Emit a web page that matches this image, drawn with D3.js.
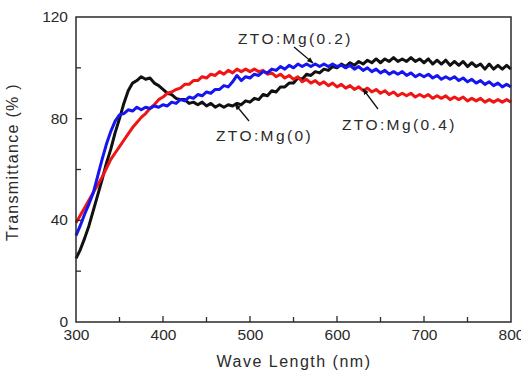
<!DOCTYPE html>
<html><head><meta charset="utf-8">
<script src="https://cdn.jsdelivr.net/npm/d3@7"></script>
<style>body{margin:0;background:#fff;}svg{display:block;font-family:"Liberation Sans",Arial,sans-serif;}</style>
</head><body>
<svg id="c" width="521" height="372"></svg>
<script>
const wavelengths = d3.range(300, 801, 5);
const mg0 = [25,28.5,33,38,44,50,56,62.5,68,74.5,
 80,86,91,94,95,96.5,95.5,96,94,93,
 91.5,90,89.5,88,87.5,87.5,86,86.5,85.5,86.5,
 85,86,84.5,85.5,84.5,85.5,85,86,85.5,87,
 86.5,88,87.5,89.5,89,91,90.5,92.5,92.5,94,
 94,96,95.5,97.5,97,98.5,98,99.5,99,100.5,
 100,101.5,100.5,102,101,102.5,101.5,103,102,103.5,
 102,103.5,102.5,104,102.5,103.5,102.5,104,102.5,103.5,
 102,103.5,101.5,103,101.5,103,101,102.5,101,102.5,
 100.5,102,100.5,101.5,99.5,101.5,99.5,101,99.5,101,
 99.5];
const mg02 = [34,38,42.5,46.5,51,57.5,64,70,75,79,
 81.5,82,83.5,83,84.5,83.5,84.5,84,85,84.5,
 85.5,85,86.5,86,87.5,87,88.5,88,89.5,89,
 90.5,90,91.5,91.5,93,92.5,94.5,97,95,96.5,
 96,97.5,97,98.5,98,99.5,99,100.5,99.5,101,
 100,101.5,100.5,101.5,100.5,101.5,100.5,101.5,100.5,101.5,
 100.5,101,100,101,99.5,100.5,99,100,98.5,99.5,
 98,99,97.5,98.5,97.5,98.5,97,98,96.5,97.5,
 96.5,97.5,96,97,95.5,96.5,95.5,96.5,95,96,
 94.5,95.5,94,95,93.5,94.5,93,94,92.5,93.5,
 92.5];
const mg04 = [39,42,45,48,51,54,57,60.5,64,66.5,
 69,71.5,74,76.5,78.5,80.5,82,84,85.5,87.5,
 88.5,90,90.5,91.5,92,93.5,93.5,95,95,96.5,
 96,97.5,97,98.5,97.5,99,98,99.5,98.5,99.5,
 98.5,99.5,98.5,99,97.5,98,96.5,97.5,96,97,
 95.5,96.5,94.5,95.5,94,95,93.5,94.5,93,94,
 92.5,93.5,92,93,91.5,92.5,91,92,90.5,91.5,
 90,91,89.5,90.5,89,90,89,90,88.5,89.5,
 88.5,89.5,88,89,88,89,87.5,88.5,87.5,88.5,
 87,88,87,88,86.5,87.5,86.5,87.5,86.5,87.5,
 86.5];
const seriesNames = ["ZTO:Mg(0)","ZTO:Mg(0.2)","ZTO:Mg(0.4)"];
const seriesColors = ["#111111","#1515f0","#f01515"];
const xTicks = [300,400,500,600,700,800];
const yTicks = [0,40,80,120];

const svg = d3.select("#c");
const L=76, R=511, T=17, B=322;
const x = d3.scaleLinear().domain([300,800]).range([L,R]);
const y = d3.scaleLinear().domain([0,120]).range([B,T]);
const ink="#2a2a2a";

const line = d3.line().x((d,i)=>x(wavelengths[i])).y(d=>y(d));
const all=[mg0,mg02,mg04];
[0,2,1].forEach(k=>{
  svg.append("path").datum(all[k]).attr("d",line).attr("fill","none")
    .attr("stroke",seriesColors[k]).attr("stroke-width",3).attr("stroke-linejoin","round");
});

const gx = svg.append("g").attr("transform",`translate(0,${B})`)
  .call(d3.axisBottom(x).tickValues(xTicks).tickSize(0).tickPadding(7).tickFormat(d3.format("d")));
const gy = svg.append("g").attr("transform",`translate(${L},0)`)
  .call(d3.axisLeft(y).tickValues(yTicks).tickSize(0).tickPadding(8));
[gx,gy].forEach(g=>{g.select(".domain").remove();g.selectAll("text").attr("font-size",15.5).attr("fill",ink).attr("font-family","Liberation Sans, Arial, sans-serif");});
gy.selectAll("text").attr("dy","0.3em");
d3.range(350,800,50).forEach(v=>{
  const len = v%100===0?6:5;
  svg.append("line").attr("x1",x(v)).attr("x2",x(v)).attr("y1",B).attr("y2",B-len).attr("stroke",ink).attr("stroke-width",1.3);
});
d3.range(20,120,20).forEach(v=>{
  const len = v%40===0?6:5;
  svg.append("line").attr("x1",L).attr("x2",L+len).attr("y1",y(v)).attr("y2",y(v)).attr("stroke",ink).attr("stroke-width",1.3);
});
svg.append("rect").attr("x",L).attr("y",T).attr("width",R-L).attr("height",B-T)
  .attr("fill","none").attr("stroke",ink).attr("stroke-width",1.5);

svg.append("text").attr("x",294).attr("y",367).attr("text-anchor","middle").attr("font-size",16)
  .attr("fill",ink).attr("letter-spacing",1.5).text("Wave Length (nm)");
svg.append("text").attr("transform","translate(18,162) rotate(-90)").attr("text-anchor","middle")
  .attr("font-size",16).attr("fill",ink).attr("letter-spacing",1.3).text("Transmittance (% )");

const ann = [
  {t:seriesNames[1], tx:238, ty:44, x1:294, y1:47, x2:313, y2:63},
  {t:seriesNames[0], tx:216, ty:141, x1:249, y1:121, x2:235, y2:104},
  {t:seriesNames[2], tx:342, ty:130, x1:378, y1:109, x2:363, y2:89}
];
svg.append("defs").append("marker").attr("id","ah").attr("viewBox","0 0 10 10").attr("refX",9).attr("refY",5)
  .attr("markerWidth",5).attr("markerHeight",5).attr("orient","auto")
  .append("path").attr("d","M0,1L10,5L0,9z").attr("fill","#111");
ann.forEach(a=>{
  svg.append("text").attr("x",a.tx).attr("y",a.ty).attr("font-size",15.5).attr("fill",ink)
    .attr("letter-spacing",2.4).text(a.t);
  svg.append("line").attr("x1",a.x1).attr("y1",a.y1).attr("x2",a.x2).attr("y2",a.y2)
    .attr("stroke","#111").attr("stroke-width",1.3).attr("marker-end","url(#ah)");
});
</script>
</body></html>
